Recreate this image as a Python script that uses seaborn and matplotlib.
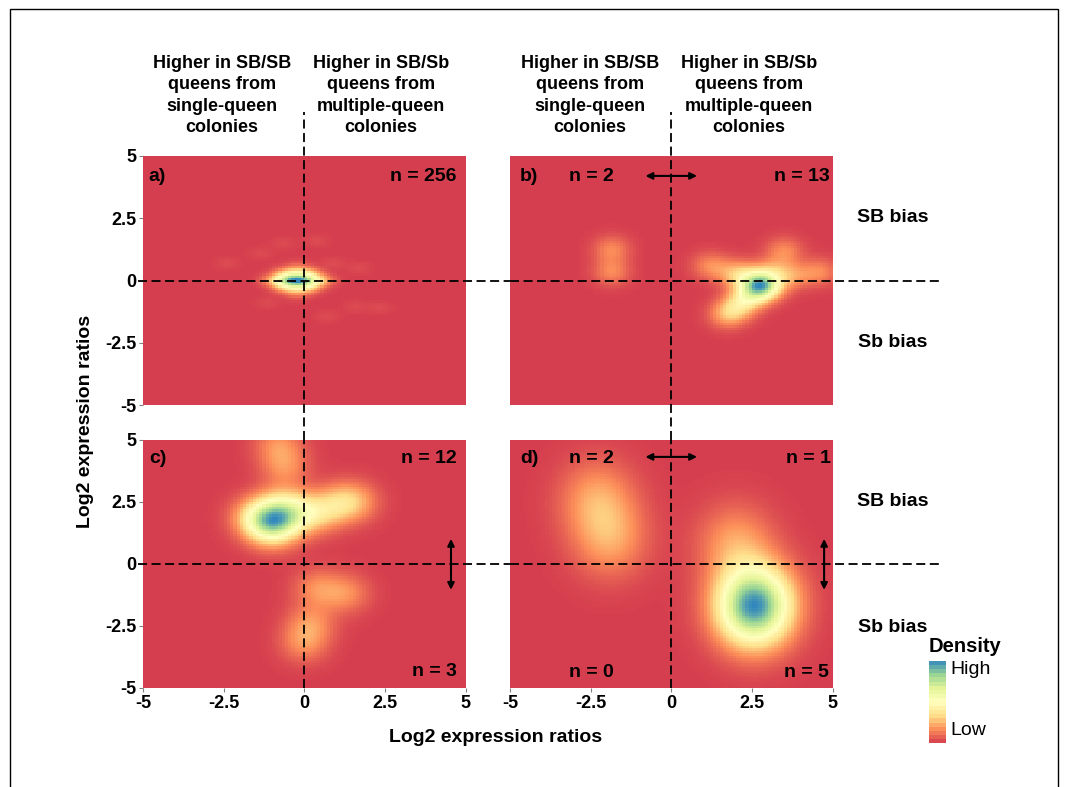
import numpy as np
import matplotlib
import matplotlib.pyplot as plt
from matplotlib.colors import LinearSegmentedColormap
from matplotlib.patches import Rectangle
import seaborn as sns

# ---- data (gene log2 ratios) ----
# panel a: dense cluster at the origin, weights stand for stacked genes
a_x = [-0.2, -0.5, 0.1, -0.8, 0.4, -1.1, 0.7,
       -0.35, 0.0, -0.7, 0.3, -0.35, 0.0, -0.7, 0.3, -0.2, -0.2,
       -1.35, -2.4, 0.9, 1.7, 1.6, 2.35, 0.7, -1.15, 0.4, -0.65]
a_y = [0.0, 0.0, 0.0, 0.0, 0.0, 0.0, 0.0,
       0.3, 0.3, 0.3, 0.3, -0.3, -0.3, -0.3, -0.3, 0.6, -0.6,
       1.1, 0.7, 0.7, 0.5, -1.07, -1.1, -1.45, -0.9, 1.6, 1.5]
a_w = [22, 18, 16, 10, 9, 4, 4,
       10, 9, 6, 5, 10, 9, 6, 5, 3, 3,
       1.4, 1.4, 1.4, 1.4, 1.4, 1.4, 1.4, 1.4, 1.4, 1.4]

b_x = [-1.85, -1.85, 2.75, 2.7, 2.85, 2.8, 2.6, 2.4, 2.2, 1.95, 1.7,
       3.2, 3.5, 3.8, 4.6, 1.2, 1.9, 3.0, 2.3]
b_y = [1.25, 0.35, -0.2, -0.05, -0.1, -0.25, -0.4, -0.65, -0.9, -1.2, -1.4,
       0.4, 1.2, 0.2, 0.35, 0.6, 0.3, -0.3, 0.2]

c_x = [-1.0, -0.8, -1.2, -0.6, -1.3, -0.9, -0.7, -1.6, -0.2, 0.2, 0.7, 1.2, 1.6,
       -0.6, -0.8, 0.4, 1.3, 0.2, 0.0]
c_y = [1.8, 1.6, 2.0, 1.9, 1.5, 1.3, 2.4, 1.9, 2.2, 1.9, 2.2, 2.5, 2.5,
       3.9, 4.8, -1.0, -1.2, -2.4, -3.2]

d_x = [-2.3, -1.9, 2.0, 2.5, 2.7, 2.4, 2.8, 2.5]
d_y = [2.6, 1.0, 0.8, -1.5, -1.9, -1.7, -1.4, -2.0]

# quadrant counts shown in the panels
n_a = ["n = 256"]
n_b = ["n = 2", "n = 13"]
n_c = ["n = 12", "n = 3"]
n_d = ["n = 2", "n = 1", "n = 0", "n = 5"]

ticks = [-5, -2.5, 0, 2.5, 5]
tick_labels = ["-5", "-2.5", "0", "2.5", "5"]

header_left = "Higher in SB/SB\nqueens from\nsingle-queen\ncolonies"
header_right = "Higher in SB/Sb\nqueens from\nmultiple-queen\ncolonies"

# brewer Spectral (7) reversed, like ggplot distiller
spectral7 = ["#D53E4F", "#FC8D59", "#FEE08B", "#FFFFBF", "#E6F598", "#99D594", "#3288BD"]
cmap = LinearSegmentedColormap.from_list("spec", spectral7)

sns.set_theme(style="white")
plt.rcParams['font.family'] = ['Liberation Sans', 'DejaVu Sans']
plt.rcParams['text.color'] = 'black'
plt.rcParams['xtick.color'] = 'black'
plt.rcParams['ytick.color'] = 'black'


# product gaussian kernel density on a 100x100 raster (like MASS::kde2d)
def kde2d(xs, ys, ws, hx, hy, n=100):
    g = np.linspace(-5, 5, n + 1)
    g = (g[:-1] + g[1:]) / 2
    xs, ys = np.asarray(xs, float), np.asarray(ys, float)
    ws = np.ones_like(xs) if ws is None else np.asarray(ws, float)
    kx = np.exp(-0.5 * ((g[:, None] - xs[None, :]) / hx) ** 2)
    ky = np.exp(-0.5 * ((g[:, None] - ys[None, :]) / hy) ** 2)
    dens = (ky * ws) @ kx.T  # rows = y, cols = x
    gx, gy = np.meshgrid(g, g)
    return gx.ravel(), gy.ravel(), dens.ravel()


fig = plt.figure(figsize=(10.65, 7.87), dpi=100)

W, H = 1065.0, 787.0
def box(x0, y0, x1, y1):
    return [x0 / W, 1 - y1 / H, (x1 - x0) / W, (y1 - y0) / H]

ax_a = fig.add_axes(box(143, 156, 465.5, 405))
ax_b = fig.add_axes(box(510, 156, 832.5, 405))
ax_c = fig.add_axes(box(143, 439.5, 465.5, 688))
ax_d = fig.add_axes(box(510, 439.5, 832.5, 688))

panels = [
    (ax_a, a_x, a_y, a_w, 0.26, 0.17),
    (ax_b, b_x, b_y, None, 0.4, 0.38),
    (ax_c, c_x, c_y, None, 0.52, 0.55),
    (ax_d, d_x, d_y, None, 0.8, 1.08),
]

for ax, xs, ys, ws, hx, hy in panels:
    ax.set_facecolor(spectral7[0])
    gx, gy, dens = kde2d(xs, ys, ws, hx, hy)
    sns.histplot(x=gx, y=gy, weights=dens, bins=100, binrange=((-5, 5), (-5, 5)),
                 cmap=cmap, thresh=None, ax=ax)
    ax.set_xlim(-5, 5)
    ax.set_ylim(-5, 5)
    ax.set_xlabel("")
    ax.set_ylabel("")
    for s in ["top", "right", "left", "bottom"]:
        ax.spines[s].set_visible(False)
    ax.set_xticks(ticks)
    ax.set_yticks(ticks)
    ax.tick_params(length=3, color="gray", width=0.8, pad=2, labelsize=13, labelcolor="black")
    ax.set_xticklabels(tick_labels, fontweight="bold")
    ax.set_yticklabels(tick_labels, fontweight="bold")

ax_a.tick_params(bottom=False, labelbottom=False, left=True)
ax_b.tick_params(bottom=False, labelbottom=False, left=False, labelleft=False)
ax_c.tick_params(bottom=True, left=True)
ax_d.tick_params(bottom=True, left=False, labelleft=False)

# dashed reference lines
dash = dict(color="black", lw=1.3, linestyle=(0, (5, 2.5)), clip_on=False, zorder=5)
ax_a.axvline(0, ymin=-0.139, ymax=1.175, **dash)
ax_c.axvline(0, ymin=0, ymax=1, **dash)
ax_b.axvline(0, ymin=-0.139, ymax=1.175, **dash)
ax_d.axvline(0, ymin=0, ymax=1, **dash)
ax_a.axhline(0, xmin=-0.015, xmax=1.138, **dash)
ax_b.axhline(0, xmin=0, xmax=1.333, **dash)
ax_c.axhline(0, xmin=-0.015, xmax=1.138, **dash)
ax_d.axhline(0, xmin=0, xmax=1.333, **dash)

# panel labels and counts
lab = dict(fontsize=14, fontweight="bold", va="center", color="black")
ax_a.text(0.016, 0.917, "a)", transform=ax_a.transAxes, ha="left", **lab)
ax_a.text(0.972, 0.917, n_a[0], transform=ax_a.transAxes, ha="right", **lab)
ax_b.text(0.031, 0.917, "b)", transform=ax_b.transAxes, ha="left", **lab)
ax_b.text(0.253, 0.917, n_b[0], transform=ax_b.transAxes, ha="center", **lab)
ax_b.text(0.99, 0.917, n_b[1], transform=ax_b.transAxes, ha="right", **lab)
ax_c.text(0.019, 0.925, "c)", transform=ax_c.transAxes, ha="left", **lab)
ax_c.text(0.972, 0.925, n_c[0], transform=ax_c.transAxes, ha="right", **lab)
ax_c.text(0.972, 0.066, n_c[1], transform=ax_c.transAxes, ha="right", **lab)
ax_d.text(0.031, 0.925, "d)", transform=ax_d.transAxes, ha="left", **lab)
ax_d.text(0.253, 0.925, n_d[0], transform=ax_d.transAxes, ha="center", **lab)
ax_d.text(0.994, 0.925, n_d[1], transform=ax_d.transAxes, ha="right", **lab)
ax_d.text(0.253, 0.062, n_d[2], transform=ax_d.transAxes, ha="center", **lab)
ax_d.text(0.99, 0.062, n_d[3], transform=ax_d.transAxes, ha="right", **lab)

# arrows
arr = dict(arrowstyle="<|-|>", color="black", lw=1.5, mutation_scale=10, shrinkA=0, shrinkB=0)
ax_b.annotate("", xy=(-0.8, 4.2), xytext=(0.8, 4.2), arrowprops=arr)
ax_d.annotate("", xy=(-0.8, 4.3), xytext=(0.8, 4.3), arrowprops=arr)
ax_c.annotate("", xy=(4.55, 1.0), xytext=(4.55, -1.05), arrowprops=arr)
ax_d.annotate("", xy=(4.74, 1.0), xytext=(4.74, -1.05), arrowprops=arr)

# headers
hdr = dict(fontsize=13, fontweight="bold", ha="center", va="center", linespacing=1.35)
for xc, txt in [(222, header_left), (381, header_right), (590, header_left), (749, header_right)]:
    fig.text(xc / W, 1 - 95.5 / H, txt, **hdr)

# bias labels
for yc, txt in [(217, "SB bias"), (343, "Sb bias"), (502, "SB bias"), (627, "Sb bias")]:
    fig.text(893 / W, 1 - yc / H, txt, fontsize=14, fontweight="bold", ha="center", va="center")

# axis labels
fig.text(496 / W, 1 - 737 / H, "Log2 expression ratios", fontsize=14, fontweight="bold",
         ha="center", va="center")
fig.text(85 / W, 1 - 421 / H, "Log2 expression ratios", fontsize=14, fontweight="bold",
         ha="center", va="center", rotation=90)

# colour legend
cax = fig.add_axes(box(929, 661, 946, 743))
sm = matplotlib.cm.ScalarMappable(norm=matplotlib.colors.Normalize(0, 1), cmap=cmap)
cb = fig.colorbar(sm, cax=cax, boundaries=np.linspace(0, 1, 21), ticks=[0.18, 0.915])
cb.set_ticklabels(["Low", "High"])
cb.outline.set_visible(False)
cax.tick_params(length=4, color="white", direction="in", labelsize=14, pad=3, labelcolor="black")
fig.text(929 / W, 1 - 647 / H, "Density", fontsize=14.5, fontweight="bold", ha="left", va="center")

# outer frame
fig.patches.append(Rectangle((10 / W, -0.02), 1048 / W, 1 - 9 / H + 0.02, transform=fig.transFigure,
                             fill=False, edgecolor="black", lw=1))

plt.savefig("out.png", dpi=100)
plt.close()
